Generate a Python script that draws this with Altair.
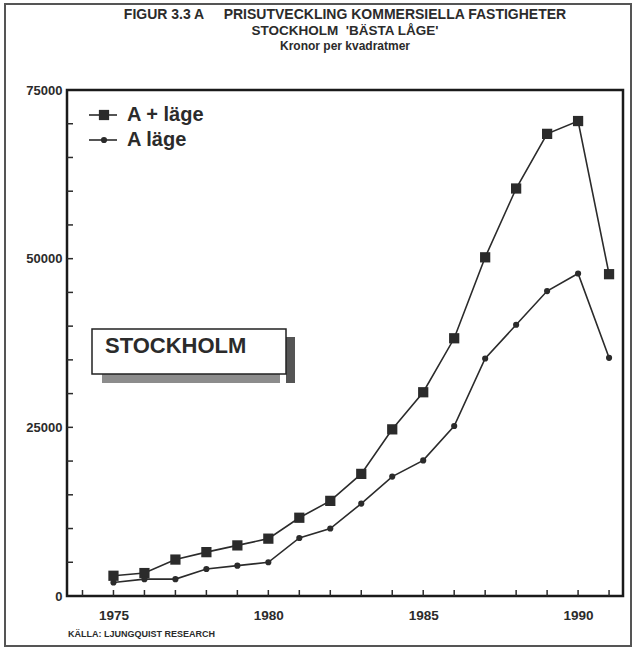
import altair as alt
import pandas as pd

# Price per square metre, prime commercial property in Stockholm
years = list(range(1975, 1992))
a_plus_lage = [3000, 3400, 5400, 6500, 7500, 8500, 11600, 14100, 18100,
               24700, 30200, 38200, 50200, 60400, 68500, 70400, 47700]
a_lage = [2000, 2500, 2500, 4000, 4500, 5000, 8600, 10000, 13700,
          17700, 20100, 25200, 35200, 40200, 45200, 47800, 35300]
series_names = ["A + läge", "A läge"]

x_tick_years = list(range(1974, 1992))
x_label_years = [1975, 1980, 1985, 1990]
y_tick_values = list(range(5000, 75000, 5000))
y_label_values = [0, 25000, 50000, 75000]

NBSP = "\u00a0"
title_lines = [
    "FIGUR 3.3 A" + NBSP * 5 + "PRISUTVECKLING KOMMERSIELLA FASTIGHETER",
    "STOCKHOLM" + NBSP * 2 + "'BÄSTA LÅGE'",
    "Kronor per kvadratmer",
]
title_sizes = [14, 13.5, 12]
title_ys = [-75, -59, -44]
box_label = "STOCKHOLM"
source_note = "KÄLLA: LJUNGQUIST RESEARCH"

FONT = "Liberation Sans"
INK = "#2b2b2b"
W, H = 556, 506

df = pd.DataFrame({
    "År": years * 2,
    "Pris": a_plus_lage + a_lage,
    "Serie": [series_names[0]] * len(years) + [series_names[1]] * len(years),
})

x_enc = alt.X(
    "År:Q",
    scale=alt.Scale(domain=[1973.5, 1991.45], nice=False, zero=False),
    axis=alt.Axis(values=x_label_years, format="d", ticks=False, grid=False,
                  domain=False, title=None, labelFont=FONT, labelFontSize=13.5,
                  labelFontWeight="bold", labelColor=INK, labelPadding=12),
)
y_enc = alt.Y(
    "Pris:Q",
    scale=alt.Scale(domain=[0, 75000], nice=False),
    axis=alt.Axis(values=y_label_values, format="d", ticks=False, grid=False,
                  domain=False, title=None, labelFont=FONT, labelFontSize=13,
                  labelFontWeight="bold", labelColor=INK, labelPadding=5),
)

base = alt.Chart(df)

lines = base.mark_line(color=INK, strokeWidth=1.6).encode(
    x=x_enc, y=y_enc, detail="Serie:N"
)

points = base.mark_point(filled=True, opacity=1, color=INK).encode(
    x="År:Q",
    y="Pris:Q",
    shape=alt.Shape("Serie:N", scale=alt.Scale(domain=series_names, range=["square", "circle"]), legend=None),
    size=alt.Size("Serie:N", scale=alt.Scale(domain=series_names, range=[105, 38]), legend=None),
)

# inward tick marks on both axes
x_ticks = alt.Chart(pd.DataFrame({"År": x_tick_years})).mark_rule(
    color=INK, strokeWidth=1.5
).encode(x="År:Q", y=alt.value(H), y2=alt.value(H - 6))

y_ticks = alt.Chart(pd.DataFrame({"Pris": y_tick_values})).mark_rule(
    color=INK, strokeWidth=1.5
).encode(y="Pris:Q", x=alt.value(0), x2=alt.value(6))

one = pd.DataFrame({"k": [0]})


def text_at(txt, x, y, size, align="left", weight="bold", color=INK):
    return alt.Chart(one).mark_text(
        text=txt, font=FONT, fontSize=size, fontWeight=weight, align=align,
        baseline="middle", color=color
    ).encode(x=alt.value(x), y=alt.value(y))


def rect_at(x, x2, y, y2, **kw):
    return alt.Chart(one).mark_rect(**kw).encode(
        x=alt.value(x), x2=alt.value(x2), y=alt.value(y), y2=alt.value(y2)
    )


# title block above the plot, centred on the plot area
titles = [text_at(tl, W / 2, ty, fs, align="center")
          for tl, fs, ty in zip(title_lines, title_sizes, title_ys)]

# legend in the upper-left corner of the plot
legend_layers = []
for i, (name, shp, sz) in enumerate(zip(series_names, ["square", "circle"], [105, 38])):
    yy = 25 + i * 25
    legend_layers.append(
        alt.Chart(one).mark_rule(color=INK, strokeWidth=1.6).encode(
            x=alt.value(22), x2=alt.value(50), y=alt.value(yy))
    )
    legend_layers.append(
        alt.Chart(one).mark_point(shape=shp, size=sz, filled=True, opacity=1, color=INK).encode(
            x=alt.value(37), y=alt.value(yy))
    )
    legend_layers.append(text_at(name, 60, yy, 20))

# labelled box with drop shadow
box = [
    rect_at(35, 213, 284, 293, color="#8c8c8c"),
    rect_at(219, 228, 247, 293, color="#555555"),
    rect_at(25, 219, 239, 284, fill="white", stroke="#222222", strokeWidth=1.5),
    text_at(box_label, 38, 256, 22),
]

note = text_at(source_note, 1, 544, 9)

# outer frame around the whole figure
frame = rect_at(-62, 564, -86, 556, fill="transparent", stroke="#555555", strokeWidth=2)

chart = alt.layer(
    frame, *box, lines, points, x_ticks, y_ticks, *legend_layers, *titles, note
).properties(
    width=W, height=H,
    padding={"left": 67, "top": 90, "right": 12, "bottom": 55},
    autosize=alt.AutoSizeParams(type="none"),
    background="white",
).configure_view(stroke="#1a1a1a", strokeWidth=2.5)

chart.save("out.html", embed_options={"renderer": "svg", "actions": False})
